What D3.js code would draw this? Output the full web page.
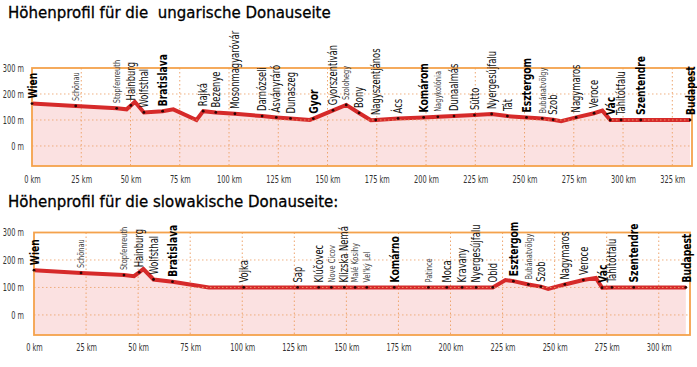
<!DOCTYPE html>
<html><head><meta charset="utf-8">
<script src="https://cdn.jsdelivr.net/npm/d3@7"></script>
<style>
body{margin:0;background:#fff}
svg{display:block}
.lbl{font-family:"Liberation Sans Narrow","Arial Narrow","DejaVu Sans Condensed","Roboto Condensed",sans-serif}
.axis text{font-family:"Liberation Sans Narrow","Arial Narrow","DejaVu Sans Condensed",sans-serif;fill:#333}
</style>
</head><body>
<svg id="chart" width="697" height="367"></svg>
<script>
// ---------- Data ----------
const titles = ["Höhenprofil für die  ungarische Donauseite", "Höhenprofil für die slowakische Donauseite:"];
const elevTicks = [0, 100, 200, 300];
const huKmTicks = [0, 25, 50, 75, 100, 125, 150, 175, 200, 225, 250, 275, 300, 325];
const skKmTicks = [0, 25, 50, 75, 100, 125, 150, 175, 200, 225, 250, 275, 300];

// Hungarian side: profile vertices
const huProfileKm   = [0, 22.2, 43, 48, 50.2, 52.2, 56.8, 66.3, 71.7, 83.5, 86.9, 93.3, 103, 116.8, 124, 131.2, 141, 142.8, 152.8, 159.5, 166, 172, 174.5, 185.8, 198.8, 206, 214.2, 224.6, 233.3, 241.3, 251, 259, 264.5, 268.6, 276.2, 285.3, 289.5, 293.5, 299, 309, 334];
const huProfileElev = [163, 154, 145, 141, 156, 170, 129, 134, 141, 100, 134, 129, 124, 115, 110, 106, 100, 105, 137, 158, 127, 99, 100, 106, 110, 112, 115, 119, 123, 115, 110, 106, 101, 95, 110, 126, 136, 100, 100, 100, 100];
// Hungarian side: places
const huPlaceNames = ["Wien", "Schönau", "Stopfenreuth", "Hainburg", "Wolfsthal", "Bratislava", "Rajká", "Bezenye", "Mosonmagyaróvár", "Darnózseli", "Ásványráró", "Dunaszeg", "Gyor", "Gyorszentiván", "Szolohegy", "Bony", "Nagyszentjános", "Ács", "Komárom", "Nagykolónia", "Dunaalmás", "Sütto", "Nyergesújfalu", "Tát", "Esztergom", "Bubánatvölgy", "Szob", "Nagymaros", "Veroce", "Vác", "Tahitótfalu", "Szentendre", "Budapest"];
const huPlaceKm    = [0, 22.2, 43, 50.2, 56.8, 66.3, 86.9, 93.3, 103, 116.8, 124, 131.2, 142.8, 152.8, 159.5, 166, 174.5, 185.8, 198.8, 206, 214.2, 224.6, 233.3, 241.3, 251, 259, 264.5, 276.2, 285.3, 293.5, 299, 309, 334];
const huPlaceElev  = [163, 154, 145, 156, 129, 134, 134, 129, 124, 115, 110, 106, 105, 137, 158, 127, 100, 106, 110, 112, 115, 119, 123, 115, 110, 106, 101, 110, 126, 100, 100, 100, 100];
const huPlaceRank  = ["major", "minor", "minor", "normal", "normal", "major", "normal", "normal", "normal", "normal", "normal", "normal", "major", "normal", "minor", "normal", "normal", "normal", "major", "minor", "normal", "normal", "normal", "normal", "major", "minor", "normal", "normal", "normal", "major", "normal", "major", "major"];

// Slovak side: profile vertices
const skProfileKm   = [0, 22.6, 43.2, 48, 50.5, 52.5, 57.4, 66.5, 84, 100.7, 126.6, 136.7, 142.8, 149, 154.2, 159.8, 173, 189.4, 198.2, 205.6, 212.3, 220.3, 226.4, 230.2, 237.4, 243.4, 246.9, 254.9, 263.8, 269.8, 272.8, 277.5, 288, 313];
const skProfileElev = [163, 153, 145, 141, 155, 167, 129, 121, 100, 100, 100, 100, 100, 100, 100, 100, 100, 100, 100, 100, 100, 100, 127, 123, 111, 103, 95, 111, 127, 135, 99, 100, 100, 100];
// Slovak side: places
const skPlaceNames = ["Wien", "Schönau", "Stopfenreuth", "Hainburg", "Wolfsthal", "Bratislava", "Vojka", "Sap", "Klúčovec", "Nove Cicov", "Klizska Nemá", "Malé Kosihy", "Vel'ký Lel", "Komárno", "Patince", "Moca", "Kravany", "Nyergesújfalu", "Obid", "Esztergom", "Bubánatvölgy", "Szob", "Nagymaros", "Veroce", "Vác", "Tahitótfalu", "Szentendre", "Budapest"];
const skPlaceKm    = [0, 22.6, 43.2, 50.5, 57.4, 66.5, 100.7, 126.6, 136.7, 142.8, 149, 154.2, 159.8, 173, 189.4, 198.2, 205.6, 212.3, 220.3, 230.2, 237.4, 243.4, 254.9, 263.8, 272.8, 277.5, 288, 313];
const skPlaceElev  = [163, 153, 145, 155, 129, 121, 100, 100, 100, 100, 100, 100, 100, 100, 100, 100, 100, 100, 100, 123, 111, 103, 111, 127, 99, 100, 100, 100];
const skPlaceRank  = ["major", "minor", "minor", "normal", "normal", "major", "normal", "normal", "normal", "minor", "normal", "minor", "minor", "major", "minor", "normal", "normal", "normal", "normal", "major", "minor", "normal", "normal", "normal", "major", "normal", "major", "major"];

// ---------- Drawing ----------
const svg = d3.select("#chart");
const ORANGE = "#f4a24c", GRID = "#eea56e", RED = "#d62a2a", FILL = "#fbe1e1";
const rankStyle = {
  major:  {size: 13,   weight: "bold",   fill: "#000", probe: "Bratislava",      target: 52},
  normal: {size: 11.5, weight: "normal", fill: "#111", probe: "Mosonmagyaróvár", target: 78},
  minor:  {size: 9,    weight: "normal", fill: "#444", probe: "Bubánatvölgy",    target: 46}
};
function measure(str, size, weight, cls) {
  const t = svg.append("text").attr("class", cls).attr("font-size", size + "px")
    .attr("font-weight", weight).text(str);
  const w = t.node().getComputedTextLength();
  t.remove();
  return w;
}
Object.values(rankStyle).forEach(s => {
  s.f = Math.min(1, s.target / measure(s.probe, s.size, s.weight, "lbl"));
});
const AX_SIZE = 10.5;
const axF = Math.min(1, 25 / measure("100 km", AX_SIZE, "normal", "lbl"));

function drawTitle(text, y) {
  svg.append("text").attr("x", 8).attr("y", y)
    .attr("font-family", "'DejaVu Sans', Verdana, sans-serif")
    .attr("font-size", "15px").attr("fill", "#000")
    .style("white-space", "pre")
    .attr("stroke", "#000").attr("stroke-width", 0.3)
    .text(text);
}

function drawPanel(cfg) {
  const x = d3.scaleLinear().domain(cfg.kmDomain).range([cfg.left, cfg.right]);
  const y = d3.scaleLinear().domain(cfg.elevDomain).range([cfg.bottom, cfg.top]);
  const g = svg.append("g");
  const pts = cfg.profKm.map((k, i) => [k, cfg.profElev[i]]);

  // area fill
  g.append("path").datum(pts)
    .attr("d", d3.area().x(d => x(d[0])).y0(cfg.bottom).y1(d => y(d[1])))
    .attr("fill", FILL);

  // vertical grid
  g.append("g").selectAll("line").data(cfg.kmTicks.filter(d => d > 0)).join("line")
    .attr("x1", d => x(d)).attr("x2", d => x(d))
    .attr("y1", cfg.top).attr("y2", cfg.bottom)
    .attr("stroke", GRID).attr("stroke-width", 1).attr("stroke-dasharray", "1.5,2.5");

  // profile line
  g.append("path").datum(pts)
    .attr("d", d3.line().x(d => x(d[0])).y(d => y(d[1])))
    .attr("fill", "none").attr("stroke", RED).attr("stroke-width", 4)
    .attr("stroke-linejoin", "miter");

  // horizontal grid (over line)
  g.append("g").selectAll("line").data(elevTicks.filter(d => d < 300)).join("line")
    .attr("x1", cfg.left).attr("x2", cfg.right)
    .attr("y1", d => y(d)).attr("y2", d => y(d))
    .attr("stroke", GRID).attr("stroke-width", 1).attr("stroke-dasharray", "1.5,2.5")
    .attr("opacity", 0.85);

  // border
  g.append("rect").attr("x", cfg.left).attr("y", cfg.top)
    .attr("width", cfg.right - cfg.left).attr("height", cfg.bottom - cfg.top)
    .attr("fill", "none").attr("stroke", ORANGE).attr("stroke-width", 1.8);

  // markers
  g.append("g").selectAll("circle").data(cfg.names).join("circle")
    .attr("cx", (d, i) => x(cfg.km[i])).attr("cy", (d, i) => y(cfg.elev[i]))
    .attr("r", 1.4).attr("fill", "#2a0505");

  // labels
  g.append("g").selectAll("text").data(cfg.names).join("text")
    .attr("class", "lbl")
    .attr("transform", (d, i) => `translate(${x(cfg.km[i])},${y(cfg.elev[i]) - 5}) rotate(-90) scale(${rankStyle[cfg.rank[i]].f},1)`)
    .attr("dy", "0.36em")
    .attr("text-anchor", "start")
    .attr("font-size", (d, i) => rankStyle[cfg.rank[i]].size + "px")
    .attr("font-weight", (d, i) => rankStyle[cfg.rank[i]].weight)
    .attr("fill", (d, i) => rankStyle[cfg.rank[i]].fill)
    .text(d => d);

  // axes
  const ax = g.append("g").attr("class", "axis")
    .attr("transform", `translate(0,${cfg.bottom})`)
    .call(d3.axisBottom(x).tickValues(cfg.kmTicks).tickFormat(d => d + " km").tickSize(0).tickPadding(cfg.xPad));
  ax.select(".domain").remove();
  ax.selectAll("text").attr("font-size", AX_SIZE + "px")
    .attr("transform", `scale(${axF},1)`);

  const ay = g.append("g").attr("class", "axis")
    .attr("transform", `translate(${cfg.left},0)`)
    .call(d3.axisLeft(y).tickValues(elevTicks).tickFormat(d => d + " m").tickSize(0).tickPadding(9));
  ay.select(".domain").remove();
  ay.selectAll("text").attr("font-size", AX_SIZE + "px").attr("x", 0).attr("text-anchor", "end")
    .attr("transform", `translate(${-cfg.left + 24},0) scale(${axF},1)`);
}

drawTitle(titles[0], 18);
drawTitle(titles[1], 207);

drawPanel({
  kmDomain: [0, 335], elevDomain: [-77, 300],
  left: 32, right: 692, top: 68, bottom: 166, xPad: 10,
  kmTicks: huKmTicks, profKm: huProfileKm, profElev: huProfileElev,
  names: huPlaceNames, km: huPlaceKm, elev: huPlaceElev, rank: huPlaceRank
});
drawPanel({
  kmDomain: [0, 315], elevDomain: [-73, 300],
  left: 34, right: 690, top: 232.5, bottom: 335, xPad: 9,
  kmTicks: skKmTicks, profKm: skProfileKm, profElev: skProfileElev,
  names: skPlaceNames, km: skPlaceKm, elev: skPlaceElev, rank: skPlaceRank
});
</script>
</body></html>
